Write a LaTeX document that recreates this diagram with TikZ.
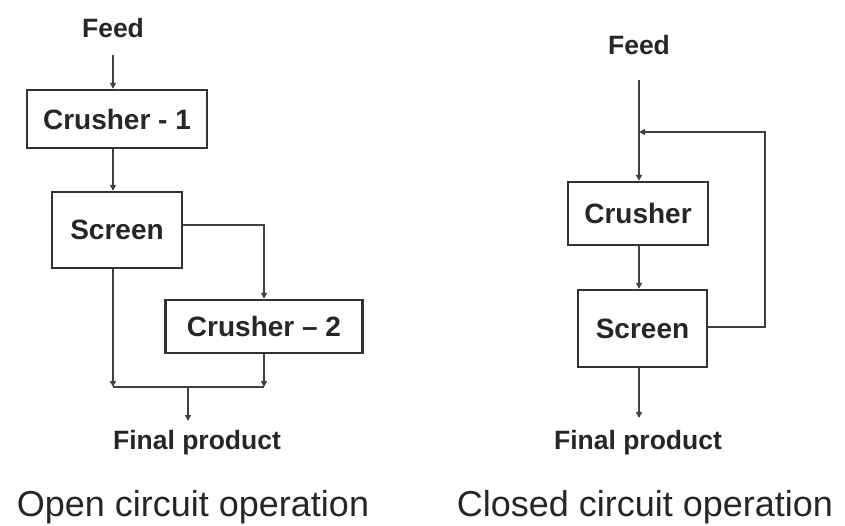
\documentclass[tikz,border=0pt]{standalone}
\usepackage{fontspec}
\setmainfont{Liberation Sans}
\usetikzlibrary{arrows.meta}
\begin{document}
\begin{tikzpicture}[x=1pt,y=-1pt,
 box/.style={draw=black!80,line width=2.4pt,inner sep=0pt,text=black!85,font=\fontsize{28}{30}\selectfont\bfseries},
 lbl/.style={inner sep=0pt,font=\fontsize{26.5}{30}\selectfont\bfseries,text=black!85},
 ttl/.style={inner sep=0pt,font=\fontsize{36}{40}\selectfont,text=black!85},
 con/.style={draw=black!75,line width=1.6pt},
 arr/.style={con,-{Triangle[length=6pt,width=6pt]}}]
\useasboundingbox (0,0) rectangle (845,525);
% left: open circuit
\node[lbl] (feedL) at (113,28) {Feed};
\node[box,minimum width=180pt,minimum height=58pt] (c1) at (117,119) {Crusher - 1};
\node[box,minimum width=130pt,minimum height=76pt] (scrL) at (117,230) {Screen};
\node[box,minimum width=197pt,minimum height=53pt] (c2) at (264,326.5) {Crusher -- 2};
\node[lbl] (finL) at (197,443) {Final product};
\node[ttl] (ttlL) at (193,507) {Open circuit operation};
\coordinate (fLs) at (113,55);
\coordinate (jL) at (188,387);
\coordinate (pL) at (188,421);
\draw[arr] (fLs) -- (fLs |- c1.north);
\draw[arr] (fLs |- c1.south) -- (fLs |- scrL.north);
\draw[arr] (scrL.east |- 0,225) -| (c2.north);
\draw[arr] (fLs |- scrL.south) -- (fLs |- jL);
\draw[arr] (c2.south) -- (c2.south |- jL);
\draw[con] (fLs |- jL) -- (c2.south |- jL);
\draw[arr] (jL) -- (pL);
% right: closed circuit
\node[lbl] (feedR) at (639,45) {Feed};
\node[box,minimum width=140pt,minimum height=63pt] (crR) at (638,213.5) {Crusher};
\node[box,minimum width=129pt,minimum height=77pt] (scrR) at (642.5,328.5) {Screen};
\node[lbl] (finR) at (638,443) {Final product};
\node[ttl] (ttlR) at (645,507) {Closed circuit operation};
\coordinate (fRs) at (639,80);
\coordinate (mR) at (639,132);
\coordinate (rR) at (765,327);
\coordinate (pR) at (639,418);
\draw[arr] (fRs) -- (fRs |- crR.north);
\draw[arr] (fRs |- crR.south) -- (fRs |- scrR.north);
\draw[arr] (scrR.east |- rR) -- (rR) |- (mR);
\draw[arr] (fRs |- scrR.south) -- (pR);
\end{tikzpicture}
\end{document}
